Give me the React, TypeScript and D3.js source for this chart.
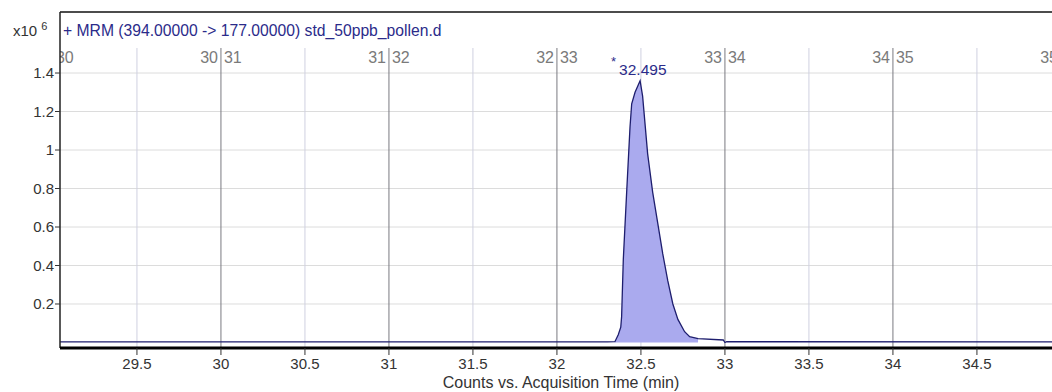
import * as d3 from 'd3';

// retention time (min) and abundance (x10^6 counts)
const RT = [29.0, 32.3, 32.345, 32.365, 32.38, 32.385, 32.395, 32.415, 32.435, 32.445, 32.465, 32.495, 32.51, 32.54, 32.57, 32.6, 32.63, 32.66, 32.69, 32.72, 32.76, 32.79, 32.84, 32.99, 33.0, 33.01, 35.2];
const COUNTS = [0.003, 0.003, 0.004, 0.04, 0.08, 0.134, 0.43, 0.78, 1.12, 1.24, 1.3, 1.36, 1.28, 0.98, 0.78, 0.62, 0.46, 0.32, 0.2, 0.12, 0.056, 0.03, 0.02, 0.013, 0.0, 0.004, 0.003];

const PEAK_START = 32.345;
const PEAK_END = 32.85;
const PEAK_LABEL = '32.495';

const X_TICKS = [29.5, 30, 30.5, 31, 31.5, 32, 32.5, 33, 33.5, 34, 34.5, 35];
const Y_TICKS = [0.2, 0.4, 0.6, 0.8, 1, 1.2, 1.4];
const SEGMENTS = [29, 30, 31, 32, 33, 34, 35];

const TITLE = '+ MRM (394.00000 -> 177.00000) std_50ppb_pollen.d';
const X_TITLE = 'Counts vs. Acquisition Time (min)';

const W = 1052;
const H = 392;
const FONT = 'Arial, "Liberation Sans", sans-serif';

export default function App() {
  const left = 60;
  const right = 1070; // plot runs off the window edge
  const top = 12;
  const bottom = 348;
  const gridTop = 48;

  const x = d3.scaleLinear().domain([29.042, 35.054]).range([left, right]);
  const y = d3.scaleLinear().domain([-0.0286, 1.717]).range([bottom, top]);

  const data = RT.map((t, i) => ({ t, v: COUNTS[i] }));
  const peak = data.filter((d) => d.t >= PEAK_START && d.t <= PEAK_END);

  const line = d3.line<{ t: number; v: number }>().x((d) => x(d.t)).y((d) => y(d.v));
  const area = d3
    .area<{ t: number; v: number }>()
    .x((d) => x(d.t))
    .y0(y(0))
    .y1((d) => y(d.v));

  const apex = data.reduce((a, b) => (b.v > a.v ? b : a));

  return (
    <svg
      width={W}
      height={H}
      style={{ position: 'absolute', left: 0, top: 0, background: '#fff' }}
      fontFamily={FONT}
    >
      <defs>
        <clipPath id="plot">
          <rect x={left} y={top} width={right - left} height={bottom - top} />
        </clipPath>
      </defs>

      {/* multiplier + title */}
      <text x={13} y={36} fontSize={15} fill="#333">
        x10
        <tspan fontSize={11} dy={-6} dx={4}>6</tspan>
      </text>
      <text x={63} y={36} fontSize={15.7} fill="#2b2b8a">{TITLE}</text>

      <g clipPath="url(#plot)">
        {/* horizontal grid */}
        {Y_TICKS.map((v) => (
          <line key={v} x1={left} x2={right} y1={y(v)} y2={y(v)} stroke="#dcdcdc" strokeWidth={1} />
        ))}
        {/* vertical grid: half minutes light, whole minutes dark */}
        {X_TICKS.map((t) => (
          <line
            key={t}
            x1={x(t)}
            x2={x(t)}
            y1={gridTop}
            y2={bottom}
            stroke={Number.isInteger(t) ? '#7a7a80' : '#cfd0e0'}
            strokeWidth={1}
          />
        ))}
        {/* segment labels along the top */}
        {SEGMENTS.map((n) => (
          <g key={n} fontSize={16} fill="#7a7a7a">
            <text x={x(n) - 3} y={63} textAnchor="end">{n}</text>
            <text x={x(n) + 3} y={63}>{n + 1}</text>
          </g>
        ))}

        <path d={area(peak) ?? ''} fill="#aaaaee" stroke="none" />
        <path d={line(data) ?? ''} fill="none" stroke="#1e1e6e" strokeWidth={1.3} />
      </g>

      {/* peak label */}
      <text x={x(apex.t) - 29} y={y(apex.v) - 15} fontSize={13} fill="#2b2b8a">*</text>
      <text x={x(apex.t) - 21} y={y(apex.v) - 6} fontSize={15.5} fill="#2b2b8a">{PEAK_LABEL}</text>

      {/* frame */}
      <line x1={left} x2={W} y1={top} y2={top} stroke="#111" strokeWidth={1.5} />
      <line x1={left} x2={left} y1={top} y2={bottom} stroke="#222" strokeWidth={1.5} />
      <line x1={left} x2={W} y1={bottom} y2={bottom} stroke="#000" strokeWidth={3} />

      {/* y axis */}
      {Y_TICKS.map((v) => (
        <g key={v}>
          <line x1={left - 5} x2={left} y1={y(v)} y2={y(v)} stroke="#333" />
          <text x={left - 6} y={y(v) + 5} fontSize={15} fill="#333" textAnchor="end">
            {v}
          </text>
        </g>
      ))}

      {/* x axis */}
      {X_TICKS.filter((t) => x(t) < W).map((t) => (
        <g key={t}>
          <line x1={x(t)} x2={x(t)} y1={bottom} y2={bottom + 7} stroke="#333" />
          <text x={x(t)} y={369} fontSize={15} fill="#333" textAnchor="middle">
            {t}
          </text>
        </g>
      ))}
      <text x={561} y={388} fontSize={16} fill="#333" textAnchor="middle">{X_TITLE}</text>
    </svg>
  );
}
